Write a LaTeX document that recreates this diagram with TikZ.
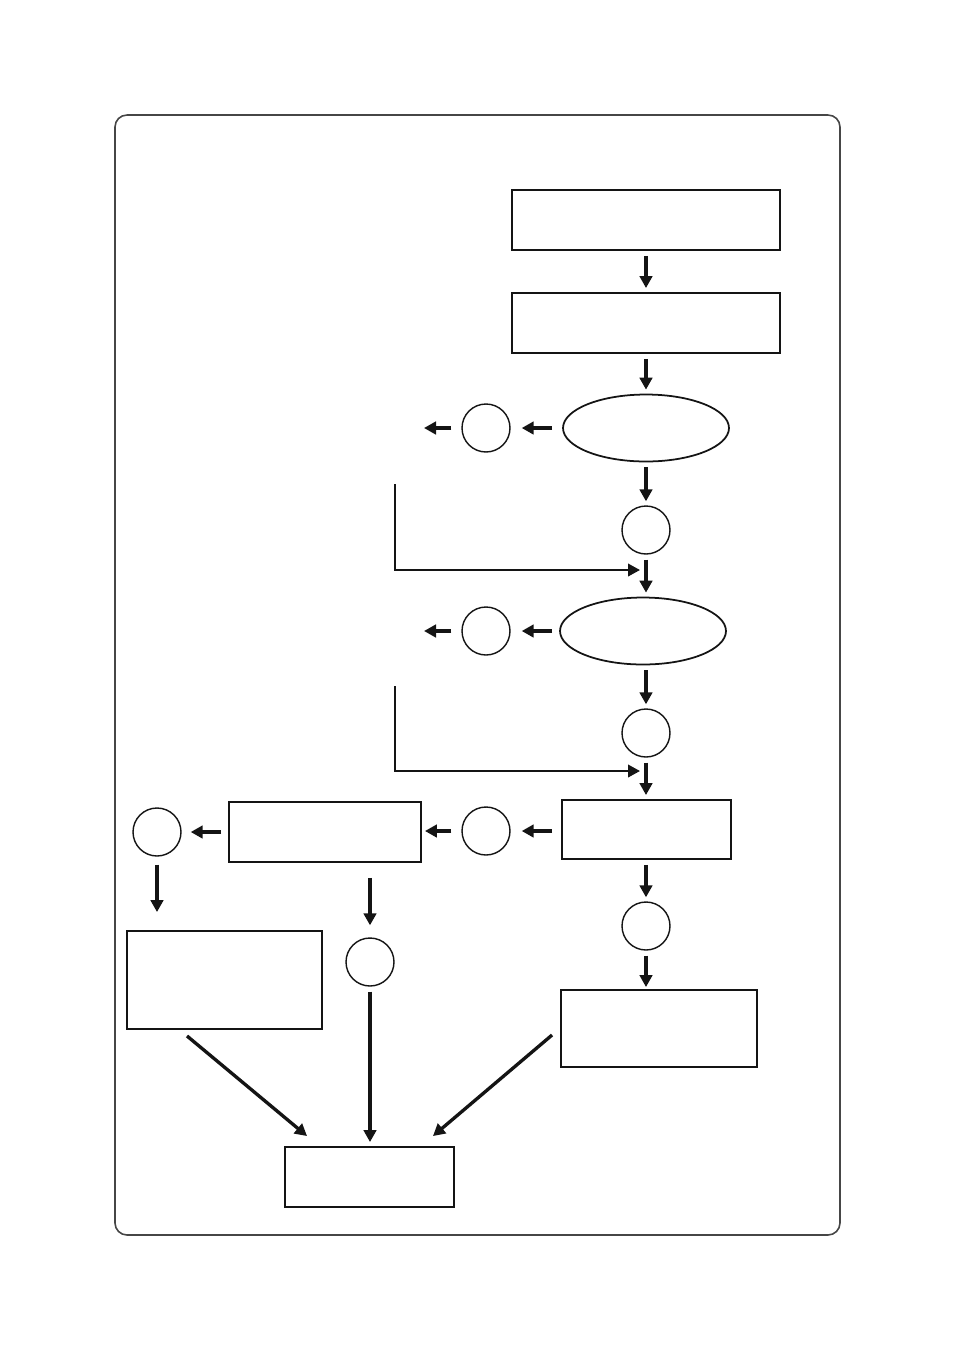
\documentclass[tikz,border=0pt]{standalone}
\usetikzlibrary{arrows.meta,positioning,calc,shapes.geometric}
\definecolor{chartInk}{RGB}{20,20,20}
\definecolor{chartFrame}{RGB}{70,70,70}

\begin{document}
\begin{tikzpicture}[x=0.02cm, y=-0.02cm,
  % ── process boxes ──
  pbox/.style={draw=chartInk, rectangle, line width=1.1pt, inner sep=0pt},
  % ── decision ellipses ──
  dell/.style={draw=chartInk, ellipse, line width=1pt, inner sep=0pt,
               minimum width=3.32cm, minimum height=1.34cm},
  % ── connector circles ──
  conn/.style={draw=chartInk, circle, line width=0.8pt, inner sep=0pt,
               minimum size=0.96cm},
  % ── arrows ──
  arr/.style={-{Triangle[length=2.4mm,width=2.5mm]}, line width=1.9pt, chartInk,
              shorten <=0.1cm, shorten >=0.08cm},
  feed/.style={-{Triangle[length=2.4mm,width=2.5mm]}, line width=1.3pt, chartInk},
]

%% ─── coordinate helpers (pixel grid, y downwards) ──────────────
% main column x = 646 | side column x = 486 | feed lines x = 395
\def\mx{646}
\def\sx{486}

\useasboundingbox (0,0) rectangle (955,1350);

%% ─── 0. Outer frame ────────────────────────────────────────────
\draw[chartFrame, line width=0.9pt, rounded corners=0.24cm]
      (115,115) rectangle (840,1235);

%% ─── 1. Main column ────────────────────────────────────────────
\node[pbox, minimum width=5.36cm, minimum height=1.2cm] (top)  at (\mx,220) {};
\node[pbox, minimum width=5.36cm, minimum height=1.2cm] (prep) at (\mx,323) {};
\node[dell] (dA) at (\mx,428) {};
\node[conn] (cA) at (\mx,530) {};
\node[dell] (dB) at (643,631) {};
\node[conn] (cB) at (\mx,733) {};
\node[pbox, minimum width=3.38cm, minimum height=1.18cm] (mid) at (646.5,829.5) {};
\node[conn] (cC) at (\mx,926) {};
\node[pbox, minimum width=3.92cm, minimum height=1.54cm] (resR) at (659,1028.5) {};

%% ─── 2. Side branches ──────────────────────────────────────────
\node[conn] (sA) at (\sx,428) {};
\node[conn] (sB) at (\sx,631) {};
\node[conn] (sC) at (\sx,831) {};
\coordinate (outA) at (424,428);
\coordinate (outB) at (424,631);

%% ─── 3. Lower left part ────────────────────────────────────────
\node[pbox, minimum width=3.84cm, minimum height=1.2cm] (left) at (325,832) {};
\node[conn] (cL) at (157,832) {};
\node[pbox, minimum width=3.9cm, minimum height=1.96cm] (resL) at (224.5,980) {};
\node[conn] (cM) at (370,962) {};
\node[pbox, minimum width=3.38cm, minimum height=1.2cm] (fin) at (369.5,1177) {};

%% ─── 4. Main column arrows ─────────────────────────────────────
\draw[arr] (top.south)  -- (prep.north);
\draw[arr] (prep.south) -- (dA.north);
\draw[arr] (dA.south)   -- (cA.north);
\draw[arr] (cA.south)   -- (cA.south |- dB.north);
\draw[arr] (cB.north |- dB.south) -- (cB.north);
\draw[arr] (cB.south)   -- (cB.south |- mid.north);
\draw[arr] (cC.north |- mid.south) -- (cC.north);
\draw[arr, shorten >=0.04cm] (cC.south) -- (cC.south |- resR.north);

% feed lines coming in from the left
\coordinate (fA) at (395,484);
\coordinate (fAe) at (640,570);
\draw[feed] (fA) |- (fAe);
\coordinate (fB) at (395,686);
\coordinate (fBe) at (640,771);
\draw[feed] (fB) |- (fBe);

%% ─── 5. Leftward arrows ────────────────────────────────────────
\draw[arr, shorten <=0.2cm, shorten >=0.22cm] (dA.west) -- (sA.east);
\draw[arr, shorten <=0.2cm, shorten >=0pt]    (sA.west) -- (outA);
\draw[arr, shorten <=0.14cm, shorten >=0.22cm] (dB.west) -- (sB.east);
\draw[arr, shorten <=0.2cm, shorten >=0pt]    (sB.west) -- (outB);
\draw[arr, shorten <=0.18cm, shorten >=0.22cm] (mid.west |- sC.east) -- (sC.east);
\draw[arr, shorten <=0.2cm, shorten >=0.06cm] (sC.west) -- (left.east |- sC.west);
\draw[arr, shorten <=0.14cm, shorten >=0.18cm] (left.west |- cL.east) -- (cL.east);

%% ─── 6. Lower arrows ───────────────────────────────────────────
\draw[arr, shorten <=0.16cm, shorten >=0.36cm] (cL.south) -- (cL.south |- resL.north);
\draw[arr, shorten <=0.3cm, shorten >=0.24cm] (cM.north |- left.south) -- (cM.north);
\draw[arr] (cM.south) -- (fin.north -| cM.south);
\draw[arr, shorten <=0pt, shorten >=0pt]
      ([xshift=-0.75cm,yshift=-0.12cm]resL.south) -- ([xshift=0.46cm,yshift=0.2cm]fin.north west);
\draw[arr, shorten <=0pt, shorten >=0pt]
      ([xshift=-0.16cm,yshift=-0.13cm]resR.west) -- ([xshift=-0.44cm,yshift=0.2cm]fin.north east);

\end{tikzpicture}
\end{document}
